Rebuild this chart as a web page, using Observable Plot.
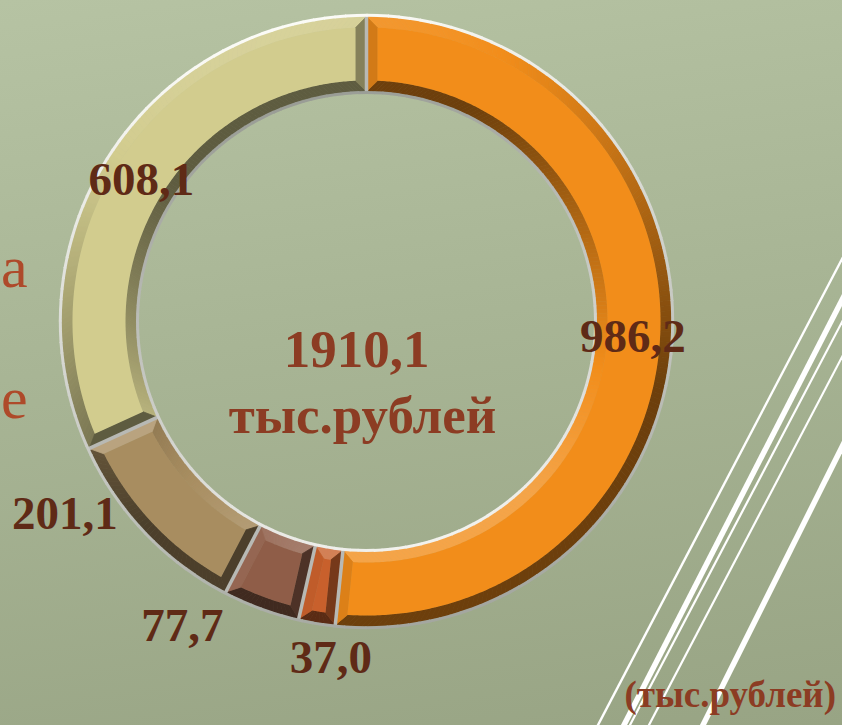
<!DOCTYPE html>
<html>
<head>
<meta charset="utf-8">
<script src="https://cdn.jsdelivr.net/npm/d3@7"></script>
<script src="https://cdn.jsdelivr.net/npm/@observablehq/plot@0.6"></script>
<style>
  html, body { margin: 0; padding: 0; }
  #stage {
    position: relative; width: 842px; height: 725px; overflow: hidden;
    background: linear-gradient(172deg, #b6c3a3 0%, #a8b595 45%, #98a484 100%);
  }
  #stage svg { position: absolute; left: 0; top: 0; }
</style>
</head>
<body>
<div id="stage"></div>
<script>
// ---- data ----
const values = [986.2, 37.0, 77.7, 201.1, 608.1];
const labels = ["986,2", "37,0", "77,7", "201,1", "608,1"];
const colors = ["#f28d1a", "#c8602c", "#8f5d48", "#a88d60", "#d2cc8e"];
const totalLabel = "1910,1";
const unitLabel = "тыс.рублей";
const caption = "(тыс.рублей)";
const sideLetters = ["а", "е"];

// ---- layout ----
const W = 842, H = 725;
const CX = 366, CY = 321, RPX = 305;           // ring centre & outer radius (px)
const R_OUT = 1, R_IN = 230 / RPX, BEV = 11 / RPX;
const labelRadius = [0.875, 1.108, 1.167, 1.173, 0.872];
const labelShiftDeg = [0.4, -3.3, 11, 11, -0.5];
const LIGHT = 345 * Math.PI / 180;

const pol = (r, a) => [r * Math.sin(a), r * Math.cos(a)];
function shade(base, phi, offset) {
  const s = Math.cos(phi - LIGHT);
  const k = Math.max(-0.2, Math.min(0.55, offset - 0.45 * s));
  return k >= 0 ? d3.interpolateRgb(base, "#000")(k) : d3.interpolateRgb(base, "#fff")(-k);
}

const arcs = d3.pie().sort(null).value(d => d)(values);

const bevelRows = [], faceRows = [], rimRows = [];
let pid = 0;
function addPoly(rows, pts, c) {
  const id = pid++;
  for (const [x, y] of pts) rows.push({id, x, y, c});
}

arcs.forEach((a, i) => {
  const base = colors[i];
  const a0 = a.startAngle, a1 = a.endAngle;
  const dOut = BEV / (R_OUT - BEV), dIn = BEV / (R_IN + BEV);
  const n = Math.max(2, Math.ceil((a1 - a0) / (Math.PI / 180)));
  for (let j = 0; j < n; j++) {
    const t0 = a0 + (a1 - a0) * j / n, t1 = a0 + (a1 - a0) * (j + 1) / n;
    const u0 = a0 + dOut + (a1 - a0 - 2 * dOut) * j / n, u1 = a0 + dOut + (a1 - a0 - 2 * dOut) * (j + 1) / n;
    const v0 = a0 + dIn + (a1 - a0 - 2 * dIn) * j / n, v1 = a0 + dIn + (a1 - a0 - 2 * dIn) * (j + 1) / n;
    const mid = (t0 + t1) / 2;
    addPoly(bevelRows, [pol(R_OUT, t0), pol(R_OUT, t1), pol(R_OUT - BEV, u1), pol(R_OUT - BEV, u0)], shade(base, mid, 0.34));
    addPoly(bevelRows, [pol(R_IN, t0), pol(R_IN, t1), pol(R_IN + BEV, v1), pol(R_IN + BEV, v0)], shade(base, mid + Math.PI, 0.2));
  }
  addPoly(bevelRows, [pol(R_OUT, a0), pol(R_OUT - BEV, a0 + dOut), pol(R_IN + BEV, a0 + dIn), pol(R_IN, a0)], shade(base, a0 - Math.PI / 2, 0.25));
  addPoly(bevelRows, [pol(R_OUT, a1), pol(R_OUT - BEV, a1 - dOut), pol(R_IN + BEV, a1 - dIn), pol(R_IN, a1)], shade(base, a1 + Math.PI / 2, 0.25));
  // face
  const pts = [];
  const m = 2 * n;
  for (let j = 0; j <= m; j++) pts.push(pol(R_OUT - BEV, a0 + dOut + (a1 - a0 - 2 * dOut) * j / m));
  for (let j = m; j >= 0; j--) pts.push(pol(R_IN + BEV, a0 + dIn + (a1 - a0 - 2 * dIn) * j / m));
  addPoly(faceRows, pts, base);
});

// rims
function rimColor(phi, lo, hi) {
  const s = Math.cos(phi - LIGHT);
  return d3.interpolateRgb(lo, hi)((1 + s) / 2);
}
for (let d = 0; d < 360; d += 2) {
  const t0 = d * Math.PI / 180, t1 = (d + 2.2) * Math.PI / 180, mid = (t0 + t1) / 2;
  addPoly(rimRows, [pol(R_OUT + 1.2 / RPX, t0), pol(R_OUT + 1.2 / RPX, t1)], rimColor(mid, "#a4a7a0", "#fbfbf6"));
  addPoly(rimRows, [pol(R_IN - 1 / RPX, t0), pol(R_IN - 1 / RPX, t1)], rimColor(mid + Math.PI, "#9a9d96", "#f2f2ee"));
}

const separators = arcs.map(a => {
  const [x1, y1] = pol(R_IN - 1 / RPX, a.startAngle), [x2, y2] = pol(R_OUT + 1 / RPX, a.startAngle);
  return {x1, y1, x2, y2};
});

const labelRows = arcs.map((a, i) => {
  const ang = (a.startAngle + a.endAngle) / 2 + labelShiftDeg[i] * Math.PI / 180;
  const [x, y] = pol(labelRadius[i], ang);
  return {x, y, text: labels[i]};
});

const chart = Plot.plot({
  width: W, height: H, margin: 0,
  x: {domain: [-CX / RPX, (W - CX) / RPX], axis: null},
  y: {domain: [-(H - CY) / RPX, CY / RPX], axis: null},
  color: {type: "identity"},
  style: {background: "transparent", overflow: "visible"},
  marks: [
    Plot.line(bevelRows, {x: "x", y: "y", z: "id", fill: "c", stroke: "c", strokeWidth: 0.8, curve: "linear-closed"}),
    Plot.line(faceRows, {x: "x", y: "y", z: "id", fill: "c", stroke: "none", curve: "linear-closed"}),
    Plot.link(separators, {x1: "x1", y1: "y1", x2: "x2", y2: "y2", stroke: "#b8b9b4", strokeWidth: 3.5}),
    Plot.line(rimRows, {x: "x", y: "y", z: "id", stroke: "c", strokeWidth: 3, strokeLinecap: "butt"}),
    Plot.text(labelRows, {x: "x", y: "y", text: "text", fontSize: 47, fontWeight: "bold",
      fontFamily: "'Liberation Serif', 'Times New Roman', serif", fill: "#5f2a16"}),
    Plot.text([totalLabel], {x: 0, y: 0, text: d => d, dx: -10, dy: 29, fontSize: 53, fontWeight: "bold",
      fontFamily: "'Liberation Serif', 'Times New Roman', serif", fill: "#8c3c23"}),
    Plot.text([unitLabel], {x: 0, y: 0, text: d => d, dx: -4, dy: 95, fontSize: 53, fontWeight: "bold",
      fontFamily: "'Liberation Serif', 'Times New Roman', serif", fill: "#8c3c23"})
  ]
});

const stage = document.getElementById("stage");
const NS = "http://www.w3.org/2000/svg";

// background decoration: diagonal white lines
const deco = document.createElementNS(NS, "svg");
deco.setAttribute("width", W); deco.setAttribute("height", H);
const decoLines = [
  [842, 259, 598, 725, 2.4], [842, 300, 624, 725, 5.5], [842, 322, 630, 725, 2.2],
  [842, 357, 649, 725, 2.2], [842, 447, 703, 725, 5.5]
];
for (const [x1, y1, x2, y2, w] of decoLines) {
  const k = 0.1;
  const l = document.createElementNS(NS, "line");
  l.setAttribute("x1", x1 + (x1 - x2) * k); l.setAttribute("y1", y1 + (y1 - y2) * k);
  l.setAttribute("x2", x2 - (x1 - x2) * k); l.setAttribute("y2", y2 - (y1 - y2) * k);
  l.setAttribute("stroke", "#ffffff"); l.setAttribute("stroke-width", w);
  deco.appendChild(l);
}
stage.appendChild(deco);
stage.appendChild(chart);

// overlay texts: slide words on the left and unit caption
const over = document.createElementNS(NS, "svg");
over.setAttribute("width", W); over.setAttribute("height", H);
over.innerHTML = `
  <g font-family="'Liberation Serif','Times New Roman',serif" fill="#ae4a2a" font-size="60">
    <text x="1" y="287" text-anchor="start">${sideLetters[0]}</text>
    <text x="1" y="418" text-anchor="start">${sideLetters[1]}</text>
  </g>
  <text x="836" y="707" text-anchor="end" font-family="'Liberation Serif','Times New Roman',serif"
        fill="#8c3c23" font-weight="bold" font-size="37">${caption}</text>`;
stage.appendChild(over);
</script>
</body>
</html>
